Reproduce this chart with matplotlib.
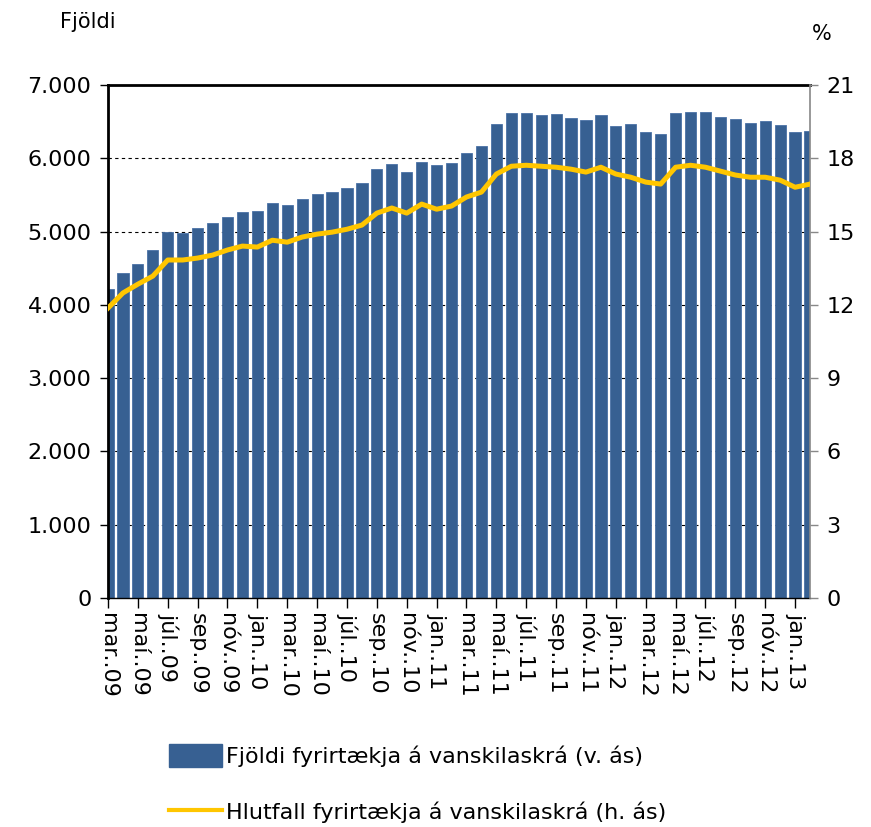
import matplotlib
matplotlib.use("Agg")
import matplotlib.pyplot as plt
import matplotlib.ticker as mticker
from matplotlib.patches import Patch
from matplotlib.lines import Line2D
import numpy as np

# Monthly data, mar.09 - feb.13; tick labels every second month
tick_labels = ["mar..09", "maí..09", "júl..09", "sep..09", "nóv..09",
               "jan..10", "mar..10", "maí..10", "júl..10", "sep..10", "nóv..10",
               "jan..11", "mar..11", "maí..11", "júl..11", "sep..11", "nóv..11",
               "jan..12", "mar..12", "maí..12", "júl..12", "sep..12", "nóv..12",
               "jan..13"]

fjoldi = [4215, 4430, 4555, 4750, 4995, 4980, 5050, 5120, 5200, 5265,
          5280, 5390, 5370, 5445, 5510, 5540, 5590, 5660, 5850, 5920,
          5810, 5950, 5910, 5940, 6070, 6170, 6465, 6615, 6625, 6590,
          6600, 6550, 6520, 6590, 6440, 6465, 6360, 6330, 6615, 6630,
          6630, 6565, 6535, 6480, 6505, 6450, 6360, 6370]

hlutfall = [11.87, 12.49, 12.85, 13.18, 13.84, 13.84, 13.92, 14.04, 14.25, 14.41,
            14.37, 14.65, 14.57, 14.78, 14.90, 14.98, 15.10, 15.27, 15.76, 15.97,
            15.76, 16.13, 15.92, 16.05, 16.42, 16.62, 17.36, 17.68, 17.72, 17.68,
            17.64, 17.56, 17.44, 17.64, 17.36, 17.23, 17.03, 16.95, 17.64, 17.72,
            17.64, 17.48, 17.32, 17.23, 17.23, 17.11, 16.82, 16.95]

BAR_COLOR = "#376092"
LINE_COLOR = "#FFC600"

plt.rcParams["font.family"] = "DejaVu Sans"

fig = plt.figure(figsize=(8.71, 8.27), dpi=100)
ax = fig.add_axes([0.124, 0.277, 0.806, 0.620])
ax2 = ax.twinx()

x = np.arange(len(fjoldi))
ax.bar(x, fjoldi, width=0.75, color=BAR_COLOR, edgecolor="#4a72a6", linewidth=0.6, zorder=2)
ax2.plot(x, hlutfall, color=LINE_COLOR, linewidth=3.6, solid_joinstyle="round", zorder=3)

ax.set_xlim(0, len(fjoldi) - 1)
ax.set_ylim(0, 7000)
ax2.set_ylim(0, 21)
ax.set_yticks(np.arange(0, 7001, 1000))
ax2.set_yticks(np.arange(0, 22, 3))
ax.yaxis.set_major_formatter(mticker.FuncFormatter(lambda v, _: f"{int(v):,}".replace(",", ".")))

ax.set_xticks(x[::2])
ax.set_xticklabels(tick_labels, rotation=-90, fontsize=16, va="top", ha="center")
ax.tick_params(axis="x", length=7, width=1, pad=4)
ax.tick_params(axis="y", labelsize=16, length=6, width=1, pad=6)
ax2.tick_params(axis="y", labelsize=16, length=6, width=1, pad=6, color="#888888")

ax.set_axisbelow(True)
ax.yaxis.grid(True, color="black", linestyle=(0, (3, 3)), linewidth=0.8)

for sp in ["left", "top"]:
    ax.spines[sp].set_linewidth(2)
    ax.spines[sp].set_color("black")
ax.spines["bottom"].set_linewidth(1)
ax.spines["right"].set_visible(False)
ax2.spines["left"].set_visible(False)
ax2.spines["top"].set_visible(False)
ax2.spines["bottom"].set_visible(False)
ax2.spines["right"].set_color("#888888")
ax2.spines["right"].set_linewidth(1.2)

fig.text(60 / 871, 1 - 22 / 827, "Fjöldi", fontsize=15, va="center", ha="left")
fig.text(822 / 871, 1 - 34 / 827, "%", fontsize=15, va="center", ha="center")

handles = [Patch(facecolor=BAR_COLOR, edgecolor=BAR_COLOR),
           Line2D([0], [0], color=LINE_COLOR, linewidth=3)]
fig.legend(handles,
           ["Fjöldi fyrirtækja á vanskilaskrá (v. ás)", "Hlutfall fyrirtækja á vanskilaskrá (h. ás)"],
           loc="upper left", bbox_to_anchor=(160 / 871, 1 - 735 / 827), frameon=False,
           fontsize=16, handlelength=2.4, handleheight=1.2, handletextpad=0.15,
           labelspacing=1.5, borderaxespad=0)

fig.savefig("out.png", dpi=100)
